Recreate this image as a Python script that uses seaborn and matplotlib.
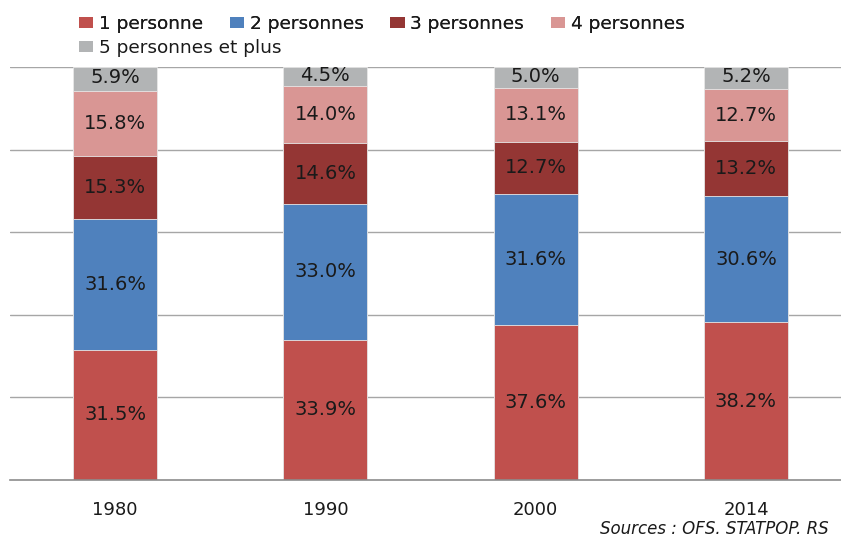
import matplotlib
matplotlib.use("Agg")
import matplotlib.pyplot as plt
import seaborn as sns
import numpy as np
import pandas as pd
from matplotlib.patches import Patch

years = ["1980", "1990", "2000", "2014"]
series_names = ["1 personne", "2 personnes", "3 personnes", "4 personnes", "5 personnes et plus"]
p1 = [31.5, 33.9, 37.6, 38.2]
p2 = [31.6, 33.0, 31.6, 30.6]
p3 = [15.3, 14.6, 12.7, 13.2]
p4 = [15.8, 14.0, 13.1, 12.7]
p5 = [5.9, 4.5, 5.0, 5.2]
colors = ["#C0504D", "#4F81BD", "#943634", "#D99694", "#B2B4B5"]
source = "Sources : OFS. STATPOP. RS"

sns.set_theme(style="white")
plt.rcParams["font.family"] = ["DejaVu Sans"]

values = [p1, p2, p3, p4, p5]
cum = np.cumsum(np.array(values), axis=0)

fig = plt.figure(figsize=(8.41, 5.38), dpi=100)
ax = fig.add_axes([10 / 841, 1 - 480 / 538, 831 / 841, (480 - 67) / 538])

for y in [20, 40, 60, 80, 100]:
    ax.axhline(y, color="#A6A6A6", lw=1.0, zorder=0)

# draw tallest cumulative first so smaller ones overlay
for i in range(len(values) - 1, -1, -1):
    df = pd.DataFrame({"year": years, "val": cum[i]})
    sns.barplot(data=df, x="year", y="val", color=colors[i], width=0.4,
                saturation=1, ax=ax, edgecolor="#E8E8E8", linewidth=0.6, zorder=2)

for i in range(len(values)):
    bottoms = cum[i] - np.array(values[i])
    for j, yr in enumerate(years):
        mid = bottoms[j] + values[i][j] / 2
        if i == 4:
            mid = bottoms[j] + (100 - bottoms[j]) / 2 + 0.3
        ax.text(j, mid, f"{values[i][j]:.1f}%", ha="center", va="center",
                fontsize=14, color="#1A1A1A", zorder=5)

ax.set_xlim(-0.5, 3.452)
ax.set_ylim(0, 100)
ax.set_xlabel("")
ax.set_ylabel("")
ax.set_yticks([])
for s in ["left", "right", "top"]:
    ax.spines[s].set_visible(False)
ax.spines["bottom"].set_color("#8C8C8C")
ax.spines["bottom"].set_linewidth(1.2)
ax.tick_params(axis="x", length=0, pad=15, labelsize=13, labelcolor="#1A1A1A")

handles = [Patch(facecolor=c, edgecolor="none") for c in colors]
leg_kw = dict(frameon=False, fontsize=13.3, handlelength=0.76, handleheight=0.55,
              handletextpad=0.32, columnspacing=1.45, borderaxespad=0, borderpad=0,
              labelcolor="#1A1A1A")
leg1 = fig.legend(handles[:4], series_names[:4], loc="center left",
                  bbox_to_anchor=(79 / 841, 1 - 24 / 538), ncol=4, **leg_kw)
fig.add_artist(leg1)
fig.legend(handles[4:], series_names[4:], loc="center left",
           bbox_to_anchor=(79 / 841, 1 - 48 / 538), ncol=1, **leg_kw)

fig.text(829 / 841, 1 - 534 / 538, source, ha="right", va="baseline",
         fontsize=12, style="italic", color="#1A1A1A")

fig.savefig("out.png", dpi=100)
